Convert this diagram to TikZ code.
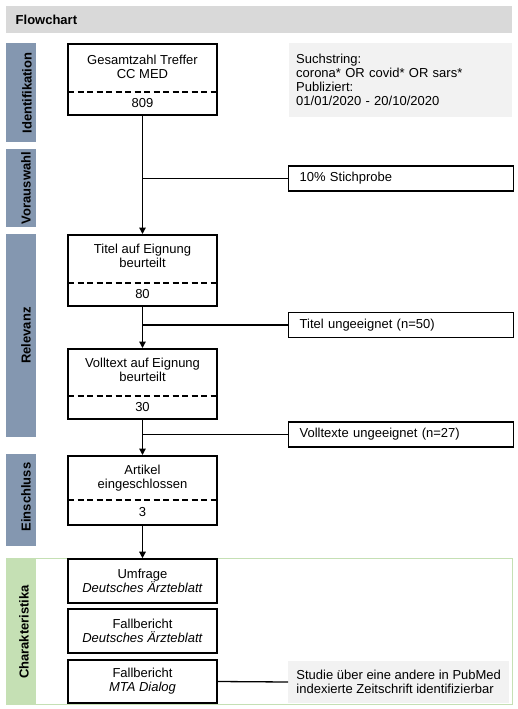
\documentclass[tikz,border=0pt]{standalone}
\usepackage{fontspec}
\setmainfont{Liberation Sans}
\usetikzlibrary{arrows.meta}
\definecolor{bandblue}{HTML}{8497B0}
\definecolor{bandgreen}{HTML}{C5E0B4}
\definecolor{headgray}{HTML}{D9D9D9}
\definecolor{notegray}{HTML}{F2F2F2}
\tikzset{
  stagebox/.style={draw, line width=1.6pt, minimum width=149pt, inner sep=0pt, align=center},
  stagetext/.style={align=center, inner sep=0pt},
  divider/.style={line width=1.4pt, dash pattern=on 6pt off 3.5pt},
  sidenote/.style={draw, line width=1.3pt, minimum height=25pt, inner xsep=11pt, inner ysep=0pt, anchor=west, text width=203pt, align=left},
  graynote/.style={fill=notegray, inner sep=0pt, align=left},
  bandlabel/.style={rotate=90, font=\bfseries, inner sep=0pt},
  flow/.style={line width=1.3pt, -{Triangle[length=6.5pt,width=6.5pt]}},
  branch/.style={line width=1.3pt}
}
\begin{document}
\fontsize{13}{14}\selectfont
\begin{tikzpicture}[x=1pt, y=-1pt]
			\useasboundingbox (0,0) rectangle (518,709);
			%%%%% HEADER %%%%%
			\fill[headgray] (6,6) rectangle (512,33);
			\node[anchor=west, font=\bfseries, inner sep=0pt] (title) at (15.5,20) {Flowchart};
			
			%%%%% BANDS %%%%%
			\fill[bandblue] (6,43) rectangle (36,142);
			\node[bandlabel] (identlbl) at (27,93) {Identifikation};
			\fill[bandblue] (6,149) rectangle (36,227);
			\node[bandlabel] (vorlbl) at (26,188) {Vorauswahl};
			\fill[bandblue] (6,234) rectangle (36,437);
			\node[bandlabel] (rellbl) at (26,335.5) {Relevanz};
			\fill[bandblue] (6,454) rectangle (36,546);
			\node[bandlabel] (einlbl) at (26,497) {Einschluss};
			\draw[bandgreen, line width=1pt] (6,558) rectangle (512,704);
			\fill[bandgreen] (6,558) rectangle (36,704);
			\node[bandlabel] (charlbl) at (24,632) {Charakteristika};
			
			%%%%% STAGES %%%%%
			\node[stagebox, minimum height=71pt, anchor=north] (treffer) at (142.5,43) {};
			\node[stagetext] (trefferlbl) at (142.5,67) {Gesamtzahl Treffer\\CC MED};
			\draw[divider] (68,92) -- (217,92);
			\node[stagetext] (treffern) at (142.5,103) {809};
			
			\node[stagebox, minimum height=71pt, anchor=north] (titel) at (142.5,234) {};
			\node[stagetext] (titellbl) at (142.5,256) {Titel auf Eignung\\beurteilt};
			\draw[divider] (68,283) -- (217,283);
			\node[stagetext] (titeln) at (142.5,294) {80};
			
			\node[stagebox, minimum height=70pt, anchor=north] (voll) at (142.5,348) {};
			\node[stagetext] (volllbl) at (142.5,370) {Volltext auf Eignung\\beurteilt};
			\draw[divider] (68,396) -- (217,396);
			\node[stagetext] (volln) at (142.5,407) {30};
			
			\node[stagebox, minimum height=69pt, anchor=north] (artikel) at (142.5,455) {};
			\node[stagetext] (artikellbl) at (142.5,478) {Artikel\\eingeschlossen};
			\draw[divider] (68,500) -- (217,500);
			\node[stagetext] (artikeln) at (142.5,512) {3};
			
			\node[stagebox, minimum height=44pt] (umfrage) at (142.5,581) {Umfrage\\\textit{Deutsches Ärzteblatt}};
			\node[stagebox, minimum height=44pt] (fall1) at (142.5,631) {Fallbericht\\\textit{Deutsches Ärzteblatt}};
			\node[stagebox, minimum height=43pt] (fall2) at (142.5,681.5) {Fallbericht\\\textit{MTA Dialog}};
			
			%%%%% NOTES %%%%%
			\node[graynote, anchor=north west, minimum width=223pt, minimum height=74pt, inner xsep=7pt, text width=209pt] (such) at (289,43) {Suchstring:\\corona* OR covid* OR sars*\\Publiziert:\\01/01/2020 - 20/10/2020};
			\node[sidenote] (stich) at (288,178.5) {10\% Stichprobe};
			\node[sidenote] (titelno) at (288,325) {Titel ungeeignet (n=50)};
			\node[sidenote] (vollno) at (288,434.5) {Volltexte ungeeignet (n=27)};
			\node[graynote, anchor=west, minimum width=221pt, minimum height=42pt] (studie) at (288,682) {Studie über eine andere in PubMed\\indexierte Zeitschrift identifizierbar};
			
			%%%%% CONNECTORS %%%%%
			\coordinate (j1) at (treffer.south |- stich.west);
			\coordinate (j2) at (titel.south |- titelno.west);
			\coordinate (j3) at (voll.south |- vollno.west);
			\draw[flow] (treffer.south) -- (titel.north);
			\draw[branch] (j1) -- (stich.west);
			\draw[flow] (titel.south) -- (voll.north);
			\draw[branch] (j2) -- (titelno.west);
			\draw[flow] (voll.south) -- (artikel.north);
			\draw[branch] (j3) -- (vollno.west);
			\draw[flow] (artikel.south) -- (umfrage.north);
			\draw[branch] (fall2.east) -- (studie.west);
\end{tikzpicture}
\end{document}
